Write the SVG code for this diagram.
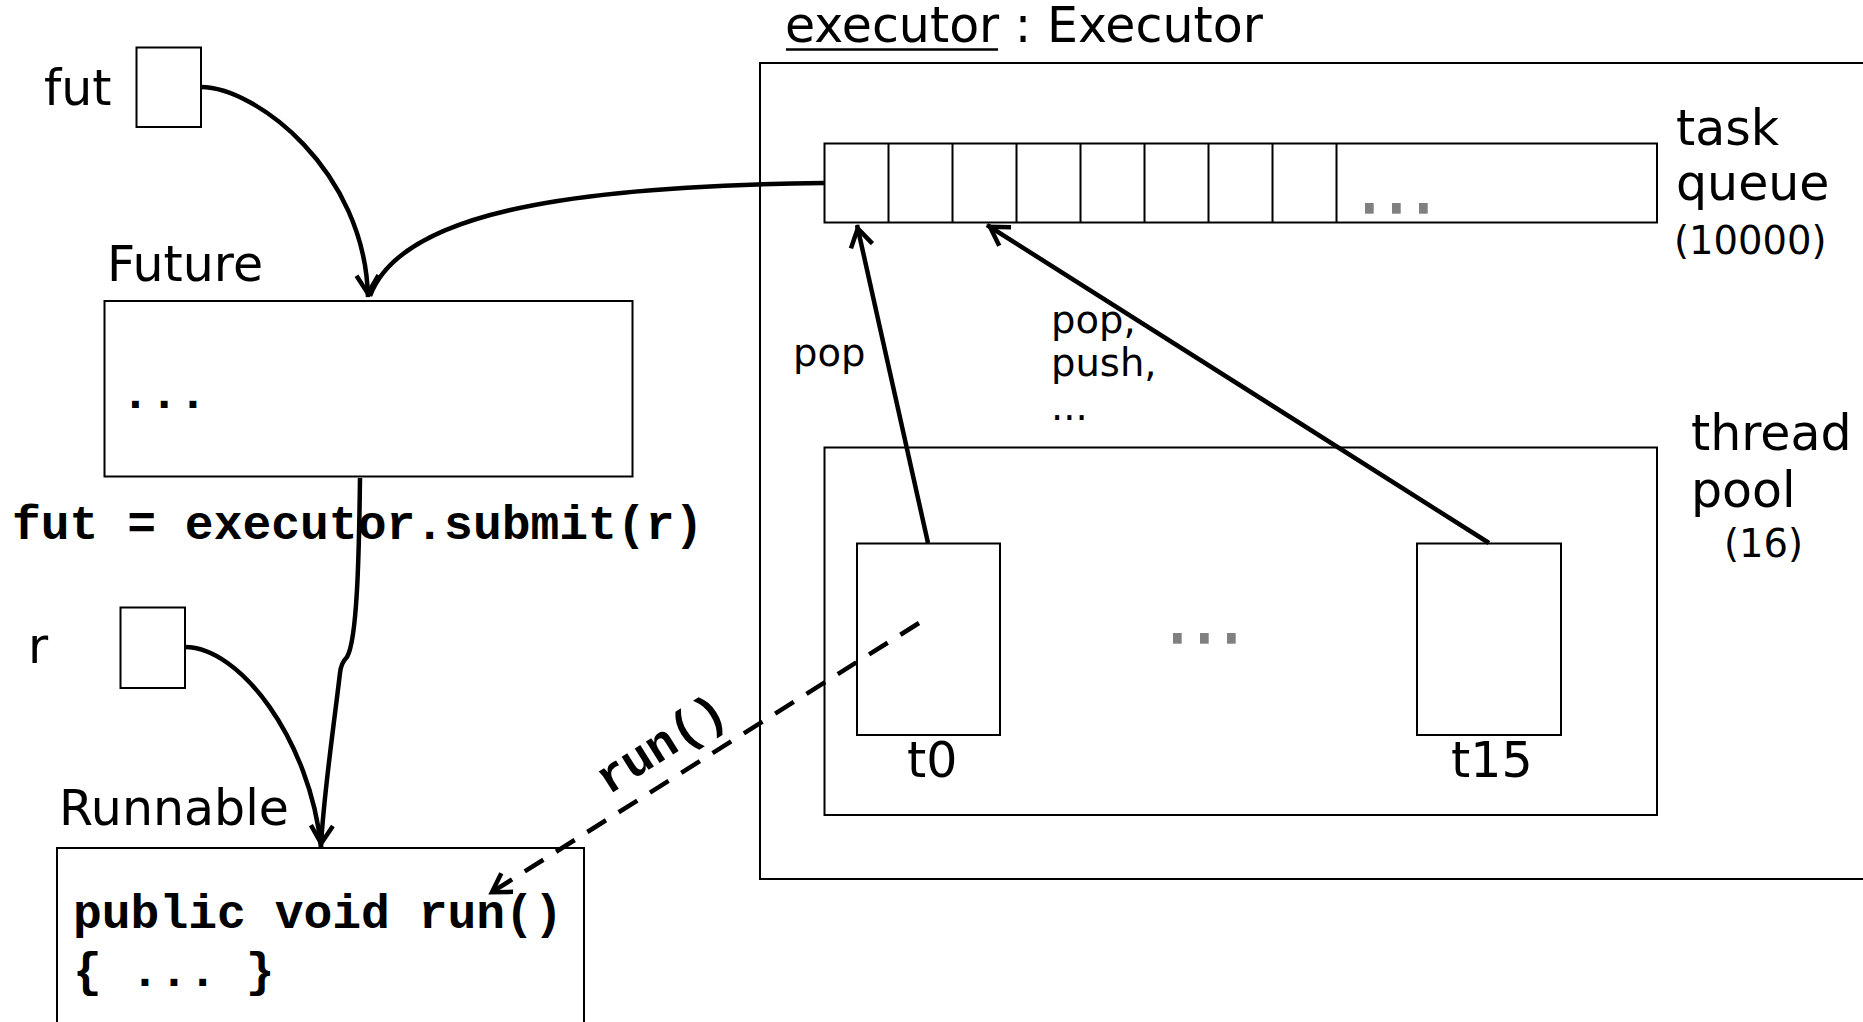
<svg xmlns="http://www.w3.org/2000/svg" width="1863" height="1022" viewBox="0 0 1863 1022">
<style>
.box{fill:#fff;stroke:#000;stroke-width:2}
.lbl{font-family:"DejaVu Sans","Liberation Sans",sans-serif;font-size:49px;fill:#000}
.sm{font-family:"DejaVu Sans","Liberation Sans",sans-serif;font-size:38.5px;fill:#000}
.code{font-family:"Liberation Mono","Courier New",monospace;font-weight:bold;font-size:48px;fill:#000}
.dot{fill:#808080}
.con{fill:none;stroke:#000;stroke-width:4.5}
.dash{stroke-dasharray:22 15}
</style>
<defs>
<marker id="arr" markerUnits="userSpaceOnUse" orient="auto" refX="0" refY="0" markerWidth="30" markerHeight="30" viewBox="-25 -15 30 30" overflow="visible">
<path d="M -21.5 -11 L -3.5 0 L -21.5 11" fill="none" stroke="#000" stroke-width="4.5" stroke-dasharray="none"/>
</marker>
</defs>
<rect width="1863" height="1022" fill="#fff"/>

<g id="executor">
<text class="lbl" x="785" y="42">executor : Executor</text>
<line x1="786" y1="49.5" x2="998" y2="49.5" stroke="#000" stroke-width="2.4"/>
<rect class="box" x="760" y="63" width="1130" height="816"/>
</g>

<g id="task-queue">
<rect class="box" x="824.5" y="143.5" width="832.5" height="79"/>
<path d="M888.5 143.5V222.5M952.5 143.5V222.5M1016.5 143.5V222.5M1080.5 143.5V222.5M1144.5 143.5V222.5M1208.5 143.5V222.5M1272.5 143.5V222.5M1336.5 143.5V222.5" stroke="#000" stroke-width="2"/>
<rect class="dot" x="1365" y="203" width="8.7" height="10.7"/>
<rect class="dot" x="1392" y="203" width="8.7" height="10.7"/>
<rect class="dot" x="1419" y="203" width="8.7" height="10.7"/>
<text class="lbl" x="1676" y="145">task</text>
<text class="lbl" x="1676" y="200">queue</text>
<text class="sm" x="1674" y="254">(10000)</text>
</g>

<g id="thread-pool">
<rect class="box" x="824.5" y="447.5" width="832.5" height="367.5"/>
<rect class="dot" x="1173" y="633" width="8.7" height="10.7"/>
<rect class="dot" x="1200" y="633" width="8.7" height="10.7"/>
<rect class="dot" x="1227" y="633" width="8.7" height="10.7"/>
<text class="lbl" x="1691" y="450">thread</text>
<text class="lbl" x="1691" y="507">pool</text>
<text class="sm" x="1724" y="557">(16)</text>
</g>

<g id="t0">
<rect class="box" x="857" y="543.5" width="143" height="191.5"/>
<text class="lbl" x="907" y="777">t0</text>
</g>

<g id="t15">
<rect class="box" x="1417" y="543.5" width="144" height="191.5"/>
<text class="lbl" x="1451" y="777">t15</text>
</g>

<g id="fut">
<text class="lbl" x="44" y="105">fut</text>
<rect class="box" x="136.5" y="47.5" width="64.5" height="79.5"/>
</g>

<g id="future">
<text class="lbl" x="107" y="281">Future</text>
<rect class="box" x="104.5" y="301" width="528" height="175.5"/>
<text class="code" x="121" y="408">...</text>
</g>

<g id="submit-label">
<text class="code" x="12" y="539">fut = executor.submit(r)</text>
</g>

<g id="r">
<text class="lbl" x="28" y="663">r</text>
<rect class="box" x="120.5" y="607.5" width="64.5" height="80.5"/>
</g>

<g id="runnable">
<text class="lbl" x="59" y="825">Runnable</text>
<rect class="box" x="57" y="848" width="527" height="200"/>
<text class="code" x="73" y="928">public void run()</text>
<text class="code" x="73" y="986">{ ... }</text>
</g>

<g id="labels">
<text class="sm" x="793" y="366">pop</text>
<text class="sm" x="1051" y="333">pop,</text>
<text class="sm" x="1051" y="376">push,</text>
<text class="sm" x="1051" y="420">...</text>
<text class="code" text-anchor="middle" transform="translate(669 757) rotate(-32.3)">run()</text>
</g>

<g id="connectors">
<path class="con" d="M201 87 C255 87 365 170 368 297" marker-end="url(#arr)"/>
<path class="con" d="M824 183 C560 186 400 215 370 296"/>
<path class="con" d="M360 478 C359 560 357 640 347 657 Q341 663 340 673 C332 740 323 800 321 847" marker-end="url(#arr)"/>
<path class="con" d="M185 647 C240 647 310 740 321 847"/>
<path class="con" d="M928 543 L857 225" marker-end="url(#arr)"/>
<path class="con" d="M1489 543 L987 225" marker-end="url(#arr)"/>
<path class="con dash" d="M919 623 L489 894" marker-end="url(#arr)"/>
</g>
</svg>
